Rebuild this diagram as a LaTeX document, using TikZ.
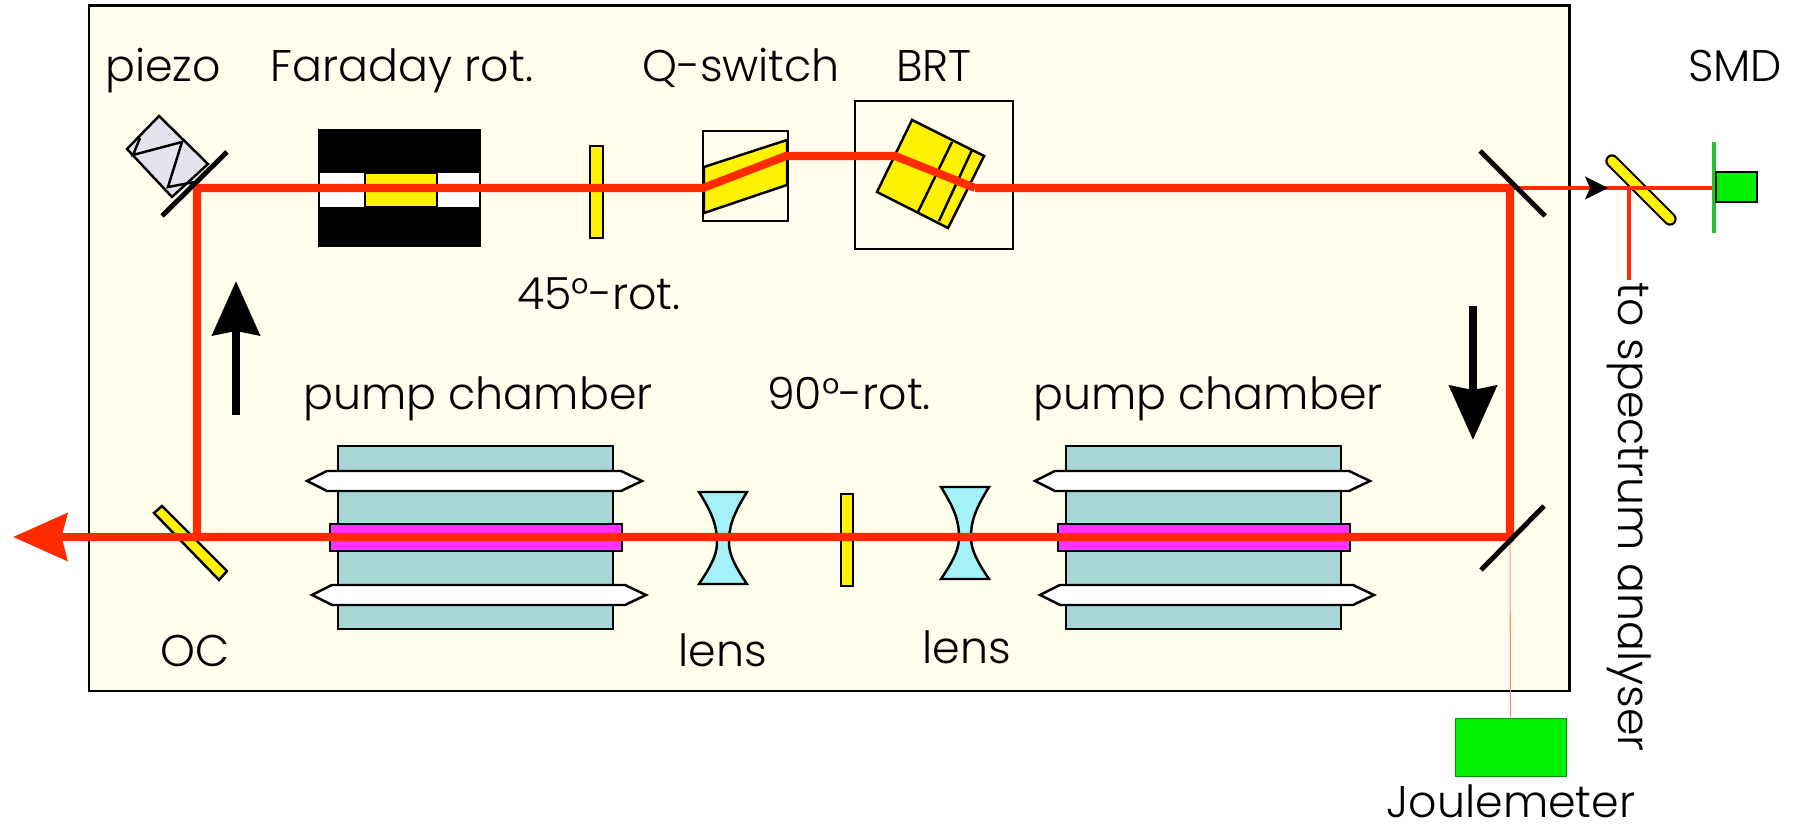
\documentclass[tikz,border=0pt]{standalone}
\usepackage{fontspec}
\setmainfont{Poppins}[UprightFont=* Light]
\usetikzlibrary{arrows.meta,calc}
\definecolor{cream}{HTML}{FFFDEC}
\definecolor{beamred}{HTML}{FF2A00}
\definecolor{chamber}{HTML}{A8D5D5}
\definecolor{lensblue}{HTML}{A4F2F8}
\definecolor{rodpink}{HTML}{FF33FF}
\definecolor{piezogray}{HTML}{E4E4EE}
\definecolor{meter}{HTML}{00F000}
\definecolor{holder}{HTML}{22C32C}
\tikzset{
  part/.style={draw=black,line width=.7pt},
  beam/.style={draw=beamred,line width=2.3pt},
  thinbeam/.style={draw=beamred,line width=.9pt},
  mirror/.style={draw=black,line width=1.4pt},
  label/.style={anchor=base,inner sep=0pt,font=\fontsize{12.6}{15}\selectfont},
}
\begin{document}
\begin{tikzpicture}[x=0.01cm,y=-0.01cm,>=Stealth]
\useasboundingbox (0,0) rectangle (1802,831);
\draw[fill=cream,line width=.85pt] (89,6) rectangle (1569,691);
% beam points
\coordinate (pz) at (197,188); \coordinate (oc) at (197,537);
\coordinate (m1) at (1510,188); \coordinate (m2) at (1510,537);
\coordinate (q1) at (703,188); \coordinate (q2) at (786,156);
\coordinate (b1) at (895,156); \coordinate (b2) at (975,188);
\coordinate (out) at (13,537); \coordinate (split) at (1629,188);
\coordinate (hd) at (1712,188); \coordinate (tip) at (1608,188);
% faraday rotator
\fill[black] (318,129) rectangle (481,247);
\fill[white] (320,173) rectangle (479,207);
\draw[part,fill=yellow] (365,173) rectangle (437,207);
% plates
\draw[part,fill=yellow] (590,146) rectangle (603,238);
\draw[part,fill=yellow] (841,494) rectangle (853,586);
% q-switch
\draw[part] (703,131) rectangle (788,221);
\draw[part,fill=yellow] (704,167) -- (787,140) -- (787,185) -- (704,213) -- cycle;
% BRT
\draw[part] (855,101) rectangle (1013,249);
\draw[part,fill=yellow] (912,120) -- (984,156) -- (948,228) -- (877,192) -- cycle;
\draw[part] (952,142) -- (918,212) (972,150) -- (939,221);
% piezo
\draw[part,fill=piezogray] (159,116) -- (127,149) -- (172,197) -- (208,164) -- cycle;
\draw[part] (140,138) -- (133,155) -- (182,142) -- (168,187) -- (195,182);
% pump chambers
\foreach \dx in {0,728} {
\begin{scope}[shift={(\dx,0)}]
\draw[part,fill=chamber] (338,446) rectangle (613,629);
\draw[part,fill=white] (307,481) -- (327,471) -- (621,471) -- (642,481) -- (621,491) -- (327,491) -- cycle;
\draw[part,fill=white] (312,595) -- (332,585) -- (625,585) -- (646,595) -- (625,605) -- (332,605) -- cycle;
\draw[part,fill=rodpink] (330,524) rectangle (622,551);
\end{scope}
}
% lenses
\foreach \lx/\ly in {723/538,965/533} {
\draw[part,fill=lensblue,shift={(\lx,\ly)}] (-24,-46) -- (24,-46)
  .. controls (9,-22) and (6,-10) .. (6,4) .. controls (6,14) and (9,24) .. (24,46) -- (-24,46)
  .. controls (-9,24) and (-6,14) .. (-6,4) .. controls (-6,-10) and (-9,-22) .. (-24,-46) -- cycle;
}
% OC
\draw[part,fill=yellow] (154,513) -- (162,506) -- (227,571) -- (219,580) -- cycle;
% splitter and detectors
\draw[line width=3.8pt,line cap=round] (1612,161) -- (1670,219);
\draw[yellow,line width=2.6pt,line cap=round] (1612,161) -- (1670,219);
\draw[holder,line width=1.4pt] (1714,142) -- (1714,233);
\node[part,fill=meter,minimum width=.41cm,minimum height=.30cm,inner sep=0pt] (smd) at (1736.5,187) {};
\node[draw=green!60!black,line width=.2pt,fill=meter,minimum width=1.11cm,minimum height=.58cm,inner sep=0pt] (jm) at (1510.5,747) {};
% beam
\draw[thinbeam] (m1) -- (hd);
\draw[thinbeam] (split) -- (1629,280);
\draw[thinbeam,-{Stealth[length=6.5pt,width=6.5pt,inset=1.4pt,color=black]}] (m1) -- (tip);
\draw[draw=beamred!55!white,line width=.3pt] (m2) -- (jm.north);
\draw[beam,line join=miter] (b2) -- (b1) -- (q2) -- (q1) -- (pz) -- (oc) -- (m2) -- (m1) -- (b2);
\draw[beam,-{Stealth[length=15.4pt,width=13.4pt,inset=1.6pt]}] (oc) -- (out);
% mirrors
\draw[mirror] (227,152) -- (162,216);
\draw[mirror] (1480,151) -- (1545,216);
\draw[mirror] (1544,506) -- (1481,570);
% direction arrows
\draw[line width=2.3pt,-{Stealth[length=15.4pt,width=13.4pt,inset=1.2pt]}] (236,415) -- (236,281);
\draw[line width=2.3pt,-{Stealth[length=15.4pt,width=13.4pt,inset=1.2pt]}] (1473,306) -- (1473,440);
% labels
\node[label] (piezo) at (163,82) {piezo};
\node[label] (far) at (402,82) {Faraday rot.};
\node[label] (qsw) at (741,82) {Q-switch};
\node[label] (brt) at (934,82) {BRT};
\node[label] (smdl) at (1735,82) {SMD};
\node[label] (rot45) at (599,310) {45°-rot.};
\node[label] (rot90) at (849,410) {90°-rot.};
\node[label] (pump1) at (478,410) {pump chamber};
\node[label] (pump2) at (1208,410) {pump chamber};
\node[label] (ocl) at (195,667) {OC};
\node[label] (lens1) at (723,667) {lens};
\node[label] (lens2) at (967,664) {lens};
\node[label] (jml) at (1511,818) {Joulemeter};
\node[label,rotate=-90] (spec) at (1618,517) {to spectrum analyser};
\end{tikzpicture}
\end{document}
